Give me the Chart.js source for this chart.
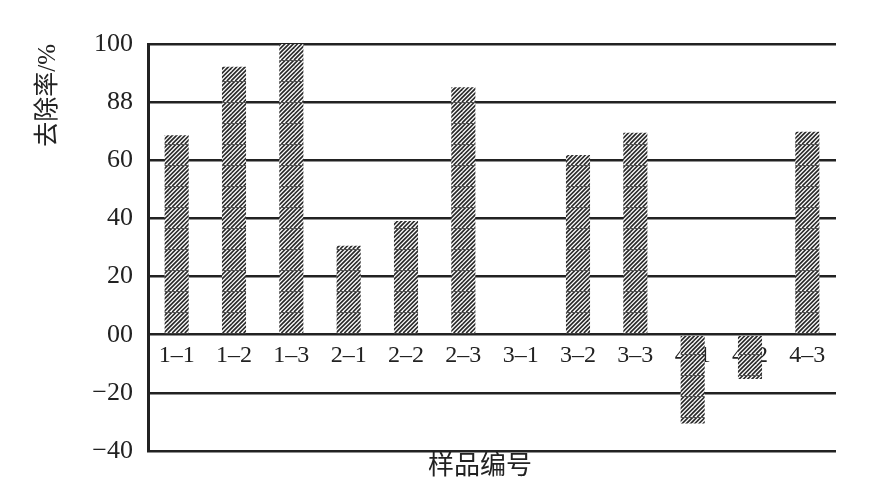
<!DOCTYPE html>
<html>
<head>
<meta charset="utf-8">
<script src="https://cdn.jsdelivr.net/npm/chart.js@4.4.1/dist/chart.umd.min.js"></script>
<style>
  html, body { margin: 0; padding: 0; background: #ffffff; }
  #wrap { width: 874px; height: 480px; position: relative; }
</style>
</head>
<body>
<div id="wrap"><canvas id="c" width="874" height="480"></canvas></div>
<script>
// ---- data ----
const categories = ["1–1", "1–2", "1–3", "2–1", "2–2", "2–3", "3–1", "3–2", "3–3", "4–1", "4–2", "4–3"];
const removalRate = [68.6, 92.2, 100, 30.6, 39.1, 85.1, 0, 61.8, 69.5, -30.5, -15.2, 69.8];
const yTickValues = [-40, -20, 0, 20, 40, 60, 80, 100];
const yTickLabels = ["−40", "−20", "00", "20", "40", "60", "88", "100"];
const yAxisTitle = "去除率/%";
const xAxisTitle = "样品编号";

// ---- hatch pattern ----
function makePattern() {
  const t = 21;
  const pc = document.createElement('canvas');
  pc.width = t; pc.height = t;
  const g = pc.getContext('2d');
  g.fillStyle = '#ffffff';
  g.fillRect(0, 0, t, t);
  g.strokeStyle = '#2a2a2a';
  g.lineWidth = 1.7;
  const d = t / 5;
  for (let k = -6; k <= 12; k++) {
    const a = k * d;
    g.beginPath();
    g.moveTo(a, t);
    g.lineTo(a + t, 0);
    g.stroke();
  }
  g.strokeStyle = '#555555';
  g.lineWidth = 1;
  g.beginPath();
  g.moveTo(0, 0.5);
  g.lineTo(t, 0.5);
  g.stroke();
  const ctx = document.getElementById('c').getContext('2d');
  const p = ctx.createPattern(pc, 'repeat');
  if (p.setTransform) p.setTransform(new DOMMatrix().translate(0, 18));
  return p;
}
const hatch = makePattern();

const serif = "'Liberation Serif', 'Noto Sans CJK SC', serif";
const ink = '#222222';

const xTitlePlugin = {
  id: 'xTitle',
  afterDraw(chart) {
    const { ctx, chartArea } = chart;
    ctx.save();
    ctx.fillStyle = ink;
    ctx.font = "26px " + serif;
    ctx.textAlign = 'center';
    ctx.textBaseline = 'middle';
    ctx.fillText(xAxisTitle, (chartArea.left + chartArea.right) / 2 - 12, chartArea.bottom + 16);
    ctx.restore();
  }
};

new Chart(document.getElementById('c'), {
  type: 'bar',
  data: {
    labels: categories,
    datasets: [{
      data: removalRate,
      backgroundColor: hatch,
      borderWidth: 0,
      barPercentage: 0.42,
      categoryPercentage: 1.0,
      xAxisID: 'x',
      yAxisID: 'y'
    }]
  },
  plugins: [xTitlePlugin],
  options: {
    responsive: false,
    animation: false,
    devicePixelRatio: 1,
    layout: { padding: { left: 0, right: 38, top: 44, bottom: 29 } },
    plugins: { legend: { display: false }, tooltip: { enabled: false } },
    scales: {
      y: {
        type: 'linear',
        position: 'left',
        min: -40,
        max: 100,
        afterBuildTicks: (s) => { s.ticks = yTickValues.map(v => ({ value: v })); },
        afterFit: (s) => { s.width = 148; s.paddingTop = 0; s.paddingBottom = 0; },
        ticks: {
          padding: 15,
          color: ink,
          font: { family: serif, size: 26 },
          callback: (v) => { const i = yTickValues.indexOf(v); return i >= 0 ? yTickLabels[i] : ''; }
        },
        grid: { color: ink, lineWidth: 2.6, drawTicks: false },
        border: { display: true, color: ink, width: 3 },
        title: {
          display: true,
          text: yAxisTitle,
          align: 'end',
          color: ink,
          font: { family: serif, size: 25 },
          padding: { top: 33, bottom: 0 }
        }
      },
      x: {
        type: 'category',
        position: { y: 0 },
        offset: true,
        afterFit: (s) => { s.height = 29; s.paddingLeft = 0; s.paddingRight = 0; },
        grid: { display: false, drawTicks: false },
        border: { display: false },
        ticks: {
          padding: 7,
          color: ink,
          maxRotation: 0,
          autoSkip: false,
          font: { family: serif, size: 24 }
        }
      }
    }
  }
});
</script>
</body>
</html>
